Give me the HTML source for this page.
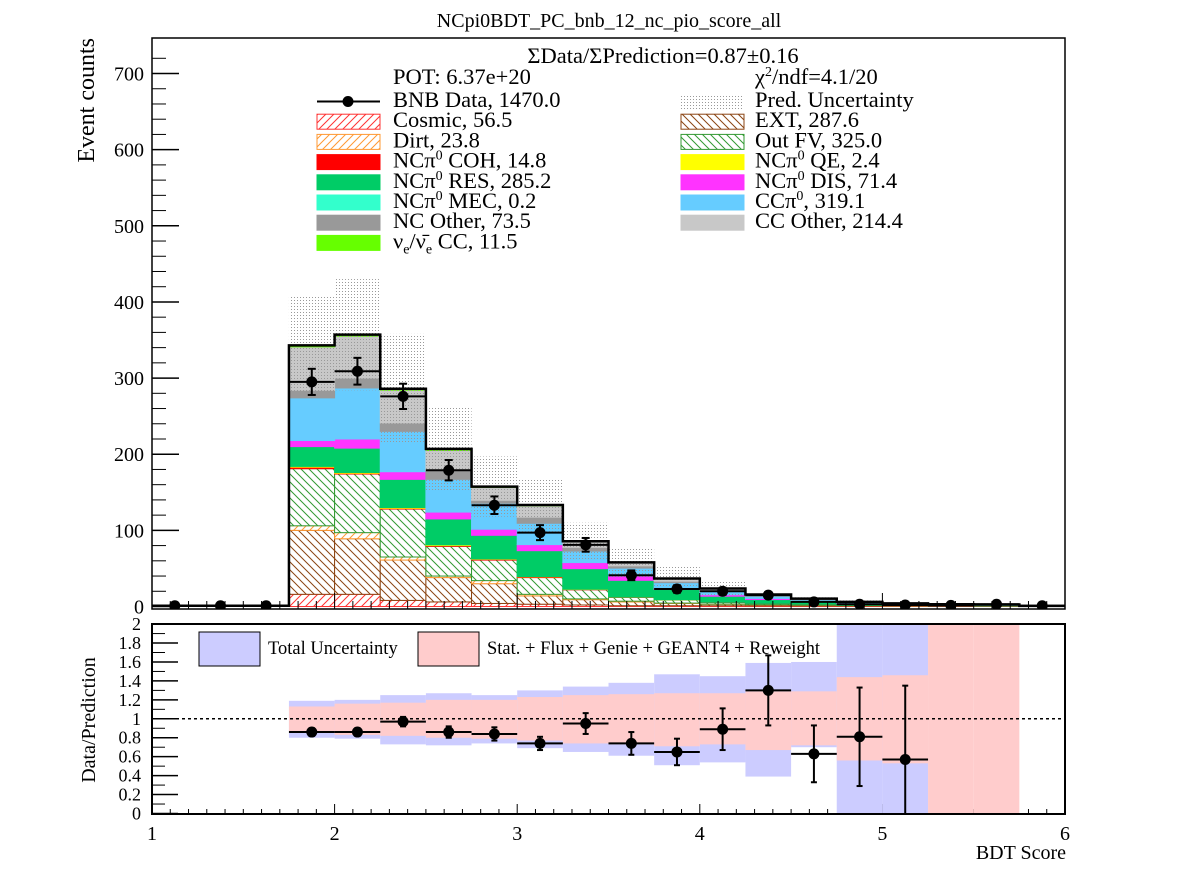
<!DOCTYPE html>
<html><head><meta charset="utf-8"><style>
body{margin:0;background:#fff}
svg{display:block;font-family:"Liberation Serif",serif}
</style></head><body>
<svg id="c" width="1198" height="875" xmlns="http://www.w3.org/2000/svg">
<defs>
<pattern id="hCos" width="8" height="8" patternUnits="userSpaceOnUse"><rect width="8" height="8" fill="#fff"/><path d="M0,8 L8,0 M-2,2 L2,-2 M6,10 L10,6" stroke="#ff3333" stroke-width="1"/></pattern>
<pattern id="hDirt" width="8" height="8" patternUnits="userSpaceOnUse"><rect width="8" height="8" fill="#fff"/><path d="M0,8 L8,0 M-2,2 L2,-2 M6,10 L10,6" stroke="#ff9933" stroke-width="1"/></pattern>
<pattern id="hExt" width="8" height="8" patternUnits="userSpaceOnUse"><rect width="8" height="8" fill="#fff"/><path d="M0,0 L8,8 M-2,6 L2,10 M6,-2 L10,2" stroke="#8b4513" stroke-width="1"/></pattern>
<pattern id="hOut" width="8" height="8" patternUnits="userSpaceOnUse"><rect width="8" height="8" fill="#fff"/><path d="M0,0 L8,8 M-2,6 L2,10 M6,-2 L10,2" stroke="#339933" stroke-width="1"/></pattern>
<pattern id="dots" width="3" height="3" patternUnits="userSpaceOnUse"><rect width="1" height="1" fill="#999"/></pattern>
</defs>
<text x="609" y="27" font-size="20" text-anchor="middle">NCpi0BDT_PC_bnb_12_nc_pio_score_all</text>
<g id="top"></g>
<g id="rat"></g>
</svg>
<script>
const binEdges0 = 1.0, binW = 0.25, nBins = 20;
const cosmic = [0.3,0.3,0.3,16,16,8,6,4,3,2,1,1,1,0.8,0.7,0.5,0.4,0.3,0.3,0.2];
const ext    = [0.5,0.5,0.5,84,73,53,32,26,11,7,5,3,2,1.5,1,0.7,0.5,0.4,0.4,0.2];
const dirt   = [0,0,0,6,8,4,2,4,2,1,1,0.5,0.3,0.2,0.1,0.1,0.1,0,0,0];
const outfv  = [0.2,0.2,0.2,75,77,63,39,27,22,12,5,4,2,1.5,1,0.6,0.4,0.3,0.3,0.1];
const coh    = [0,0,0,2,1,1,1,1,1,0.5,0.3,0.2,0.2,0.1,0.1,0,0,0,0,0];
const qe     = [0,0,0,1,1,1,1,0.5,0.3,0.2,0.1,0.1,0,0,0,0,0,0,0,0];
const res    = [0,0,0,26,32,37,34,31,34,27,22,13.5,8,5,3,2,1.2,1,0.8,0.1];
const mec    = [0,0,0,0,0,0,0,0,0,0,0,0,0,0,0,0,0,0,0,0];
const dis    = [0,0,0,8,12,10,9,8,8,8,6,2,2,1.5,1,0.6,0.5,0.3,0.3,0.1];
const ccpi0  = [0,0,0,56,67,53,43,34,28,15,10,7,5,3,2,1,0.6,0.4,0.3,0.1];
const ncoth  = [0,0,0,10,13,11,12,4,8,5,3,2,1.5,1,0.7,0.3,0.2,0.1,0.1,0.05];
const ccoth  = [0,0,0,57,55,43,26,17,15,7,4,3,1.5,1,0.6,0.3,0.2,0.1,0.1,0.05];
const nue    = [0,0,0,2,2,2,2,1,1,1,0.5,0.5,0.2,0.1,0.1,0,0,0,0,0];
const uncTop = [1.5,1.5,1.5,409,430,358,261,197,168,110,77,52,33,17,12,8,6,5,4,2];
const dataVals = [1,1,1,295,309,276,179,133,97,81,41,23,20,15,6,3,2,1.5,3,1];
const ratioVals = [null,null,null,0.86,0.86,0.97,0.86,0.84,0.74,0.95,0.74,0.65,0.89,1.30,0.63,0.81,0.57,null,null,null];
const ratioErr  = [0,0,0,0.04,0.04,0.05,0.06,0.07,0.07,0.11,0.12,0.14,0.22,0.37,0.30,0.52,0.78,0,0,0];
const totHi = [null,null,null,1.19,1.20,1.25,1.27,1.25,1.30,1.34,1.38,1.47,1.45,1.59,1.60,2.2,2.2,null,null,null];
const totLo = [null,null,null,0.80,0.79,0.73,0.72,0.74,0.69,0.65,0.61,0.51,0.54,0.39,0.70,0,0,null,null,null];
const stHi  = [null,null,null,1.13,1.16,1.17,1.20,1.20,1.23,1.25,1.26,1.27,1.27,1.29,1.29,1.44,1.46,2.2,2.2,null];
const stLo  = [null,null,null,0.85,0.83,0.82,0.80,0.79,0.77,0.74,0.73,0.71,0.73,0.67,0.72,0.56,0.53,0,0,null];
const yTicks = [0,100,200,300,400,500,600,700];
const rTicks = ["0","0.2","0.4","0.6","0.8","1","1.2","1.4","1.6","1.8","2"];
const xTicks = [1,2,3,4,5,6];

const NS="http://www.w3.org/2000/svg";
const X=v=>152+(v-1)*182.6;
const Y=v=>606.5-v*0.7614;
const R=r=>813.5-r*94.7;
function mk(p,tag,at,txt){const e=document.createElementNS(NS,tag);for(const k in at)e.setAttribute(k,at[k]);if(txt!==undefined)e.textContent=txt;p.appendChild(e);return e;}
const topG=document.getElementById('top'), rat=document.getElementById('rat');
mk(topG,'clipPath',{id:'cpT'}); mk(document.getElementById('cpT'),'rect',{x:152,y:38,width:913,height:571});
mk(rat,'clipPath',{id:'cpR'}); mk(document.getElementById('cpR'),'rect',{x:152,y:624,width:913,height:190});

const comps=[[cosmic,'url(#hCos)','#ff3333','cosmic'],[ext,'url(#hExt)','#8b4513','ext'],[dirt,'url(#hDirt)','#ff9933','dirt'],[outfv,'url(#hOut)','#339933','outfv'],
[coh,'#ff0000','#ff0000','coh'],[qe,'#ffff00','#ffff00','qe'],[res,'#00cc66','#00cc66','res'],[mec,'#33ffcc','#33ffcc','mec'],[dis,'#ff33ff','#ff33ff','dis'],
[ccpi0,'#66ccff','#66ccff','ccpi0'],[ncoth,'#999999','#999999','nc-other'],[ccoth,'#c8c8c8','#c8c8c8','cc-other'],[nue,'#66ff00','#66ff00','nue-cc']];
const gT=mk(topG,'g',{'clip-path':'url(#cpT)'});
const cum=new Array(nBins).fill(0);
comps.forEach(c=>{
  for(let i=0;i<nBins;i++){
    const v=c[0][i]; if(v<=0)continue;
    const x0=X(binEdges0+i*binW), x1=X(binEdges0+(i+1)*binW);
    const r=mk(gT,'rect',{x:x0,y:Y(cum[i]+v),width:x1-x0,height:Y(cum[i])-Y(cum[i]+v),fill:c[1],stroke:c[2],'stroke-width':1});
    
    
    cum[i]+=v;
  }
});
for(let i=0;i<nBins;i++){
  const x0=X(binEdges0+i*binW), x1=X(binEdges0+(i+1)*binW);
  const lo=Math.max(0,2*cum[i]-uncTop[i]);
  const r=mk(gT,'rect',{x:x0,y:Y(uncTop[i]),width:x1-x0,height:Y(lo)-Y(uncTop[i]),fill:'url(#dots)'});
  
  
}
let d='M'+X(1)+','+Y(0);
for(let i=0;i<nBins;i++){d+=' L'+X(binEdges0+i*binW)+','+Y(cum[i])+' L'+X(binEdges0+(i+1)*binW)+','+Y(cum[i]);}
const ol=mk(gT,'path',{d:d,fill:'none',stroke:'#000','stroke-width':2.5});


for(let i=0;i<nBins;i++){
  const xc=X(binEdges0+(i+0.5)*binW), v=dataVals[i], e=Math.sqrt(v);
  const g=mk(gT,'g',{stroke:'#000','stroke-width':2});
  
  
  mk(g,'line',{x1:X(binEdges0+i*binW),x2:X(binEdges0+(i+1)*binW),y1:Y(v),y2:Y(v)});
  mk(g,'line',{x1:xc,x2:xc,y1:Y(v-e),y2:Y(v+e)});
  mk(g,'line',{x1:xc-4,x2:xc+4,y1:Y(v-e),y2:Y(v-e)});
  mk(g,'line',{x1:xc-4,x2:xc+4,y1:Y(v+e),y2:Y(v+e)});
  mk(g,'circle',{cx:xc,cy:Y(v),r:5.5,fill:'#000',stroke:'none'});
}
const fr=mk(topG,'rect',{x:152,y:38,width:913,height:571,fill:'none',stroke:'#000','stroke-width':1.5});


yTicks.forEach(t=>{
  mk(topG,'line',{x1:152,x2:179,y1:Y(t),y2:Y(t),stroke:'#000','stroke-width':1.5});
  const l=mk(topG,'text',{x:144,y:Y(t)+7,'font-size':20,'text-anchor':'end'},String(t));
  
  
});
for(let v=20;v<740;v+=20){if(v%100)mk(topG,'line',{x1:152,x2:166,y1:Y(v),y2:Y(v),stroke:'#000','stroke-width':1});}
for(let v=1;v<=6.001;v+=0.1){const big=Math.abs(v-Math.round(v))<0.01;const h=big?16:8;
  mk(topG,'line',{x1:X(v),x2:X(v),y1:609,y2:609-h,stroke:'#000','stroke-width':1});
  mk(rat,'line',{x1:X(v),x2:X(v),y1:814,y2:814-(big?10:5),stroke:'#000','stroke-width':1});}
const yt=mk(topG,'text',{x:0,y:0,'font-size':24,'text-anchor':'end',transform:'translate(94,38) rotate(-90)'},'Event counts');


const L=[['BNB Data, 1470.0',null,'data'],['Cosmic, 56.5','url(#hCos)','#ff3333'],['Dirt, 23.8','url(#hDirt)','#ff9933'],['NCπ<tspan dy="-8" font-size="14">0</tspan><tspan dy="8"> COH,  14.8</tspan>','#ff0000'],
['NCπ<tspan dy="-8" font-size="14">0</tspan><tspan dy="8"> RES,  285.2</tspan>','#00cc66'],['NCπ<tspan dy="-8" font-size="14">0</tspan><tspan dy="8"> MEC,  0.2</tspan>','#33ffcc'],['NC Other, 73.5','#999999'],
['ν<tspan dy="5" font-size="14">e</tspan><tspan dy="-5">/ν̄</tspan><tspan dy="5" font-size="14">e</tspan><tspan dy="-5"> CC, 11.5</tspan>','#66ff00']];
const Rl=[['Pred. Uncertainty','url(#dots)','none'],['EXT, 287.6','url(#hExt)','#8b4513'],['Out FV, 325.0','url(#hOut)','#339933'],['NCπ<tspan dy="-8" font-size="14">0</tspan><tspan dy="8"> QE,  2.4</tspan>','#ffff00'],
['NCπ<tspan dy="-8" font-size="14">0</tspan><tspan dy="8"> DIS,  71.4</tspan>','#ff33ff'],['CCπ<tspan dy="-8" font-size="14">0</tspan><tspan dy="8">, 319.1</tspan>','#66ccff'],['CC Other, 214.4','#c8c8c8']];
const rowY=i=>101.5+i*20.2;
function legRow(x0,tx,i,it){
  const g=mk(topG,'g',{});
  
  
  const y=rowY(i);
  if(it[1]===null){mk(g,'line',{x1:x0,x2:x0+63,y1:y,y2:y,stroke:'#000','stroke-width':2});mk(g,'circle',{cx:x0+31,cy:y,r:5.5});}
  else mk(g,'rect',{x:x0,y:y-7.5,width:63,height:15,fill:it[1],stroke:it[2]||it[1],'stroke-width':1});
  const t=mk(g,'text',{x:tx,y:y+5.5,'font-size':22.5});t.innerHTML=it[0];
}
L.forEach((it,i)=>legRow(317,393,i,it));
Rl.forEach((it,i)=>legRow(681,755,i,it));
let t=mk(topG,'text',{x:663,y:63,'font-size':22.5,'text-anchor':'middle'},'ΣData/ΣPrediction=0.87±0.16');

t=mk(topG,'text',{x:393,y:84,'font-size':22.5},'POT: 6.37e+20');

t=mk(topG,'text',{x:755,y:84,'font-size':22.5});t.innerHTML='χ<tspan dy="-8" font-size="14">2</tspan><tspan dy="8">/ndf=4.1/20</tspan>';


const gR=mk(rat,'g',{'clip-path':'url(#cpR)'});
for(let i=0;i<nBins;i++){
  const x0=X(binEdges0+i*binW), w=X(binEdges0+(i+1)*binW)-x0;
  if(totHi[i]!==null){const r=mk(gR,'rect',{x:x0,y:R(totHi[i]),width:w,height:R(totLo[i])-R(totHi[i]),fill:'#ccccff'});
    }
}
for(let i=0;i<nBins;i++){
  const x0=X(binEdges0+i*binW), w=X(binEdges0+(i+1)*binW)-x0;
  if(stHi[i]!==null){const r=mk(gR,'rect',{x:x0,y:R(stHi[i]),width:w,height:R(stLo[i])-R(stHi[i]),fill:'#ffcccc'});
    }
}
mk(gR,'line',{x1:152,x2:1065,y1:R(1),y2:R(1),stroke:'#000','stroke-width':1.5,'stroke-dasharray':'3,3'});
for(let i=0;i<nBins;i++){
  if(ratioVals[i]===null)continue;
  const xc=X(binEdges0+(i+0.5)*binW), v=ratioVals[i], e=ratioErr[i];
  const g=mk(gR,'g',{stroke:'#000','stroke-width':2});
  
  
  mk(g,'line',{x1:X(binEdges0+i*binW),x2:X(binEdges0+(i+1)*binW),y1:R(v),y2:R(v)});
  mk(g,'line',{x1:xc,x2:xc,y1:R(Math.max(0,v-e)),y2:R(v+e)});
  mk(g,'line',{x1:xc-3,x2:xc+3,y1:R(v-e),y2:R(v-e)});
  mk(g,'line',{x1:xc-3,x2:xc+3,y1:R(v+e),y2:R(v+e)});
  mk(g,'circle',{cx:xc,cy:R(v),r:5.5,fill:'#000',stroke:'none'});
}
const fr2=mk(rat,'rect',{x:152,y:624,width:913,height:190,fill:'none',stroke:'#000','stroke-width':2});

rTicks.forEach(s=>{const v=parseFloat(s);
  mk(rat,'line',{x1:152,x2:178,y1:R(v),y2:R(v),stroke:'#000','stroke-width':1.5});
  const l=mk(rat,'text',{x:141,y:R(v)+6,'font-size':18,'text-anchor':'end'},s);
  });
for(let v=0.1;v<2;v+=0.2)mk(rat,'line',{x1:152,x2:165,y1:R(v),y2:R(v),stroke:'#000','stroke-width':1});
xTicks.forEach(v=>{const l=mk(rat,'text',{x:X(v),y:840,'font-size':20,'text-anchor':'middle'},String(v));
  });
t=mk(rat,'text',{x:1066,y:859,'font-size':20,'text-anchor':'end'},'BDT Score');

t=mk(rat,'text',{x:0,y:0,'font-size':20,'text-anchor':'middle',transform:'translate(95,720) rotate(-90)'},'Data/Prediction');

let g=mk(rat,'g',{});
mk(g,'rect',{x:199,y:632,width:61,height:34,fill:'#ccccff',stroke:'#000','stroke-width':1});
mk(g,'text',{x:268,y:654,'font-size':18.5},'Total Uncertainty');
g=mk(rat,'g',{});
mk(g,'rect',{x:418,y:632,width:61,height:34,fill:'#ffcccc',stroke:'#000','stroke-width':1});
mk(g,'text',{x:487,y:654,'font-size':18.5},'Stat. + Flux + Genie + GEANT4 + Reweight');
</script>
</body></html>
